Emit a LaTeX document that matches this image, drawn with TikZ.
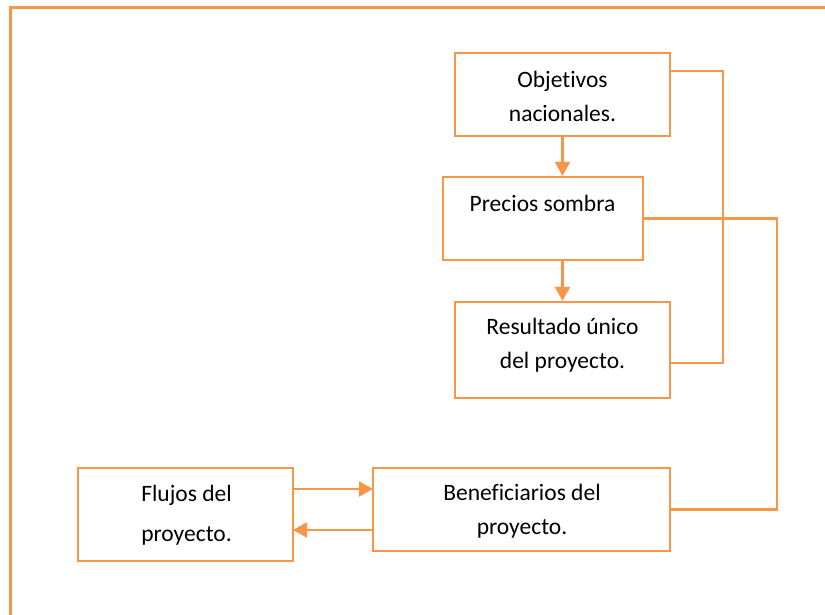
\documentclass[tikz,border=0pt]{standalone}
\usepackage{fontspec}
\setmainfont[Ligatures=NoCommon]{Carlito}
\usetikzlibrary{arrows.meta}
\definecolor{org}{RGB}{247,150,70}
\begin{document}
\begin{tikzpicture}[x=1pt,y=-1pt,
  box/.style={draw=org,line width=2.2pt,rectangle,inner sep=0pt},
  txt/.style={align=center,inner sep=0pt,font=\fontsize{23.5}{34}\selectfont},
  conn/.style={draw=org,line width=2.2pt},
  arr/.style={conn,-{Triangle[length=14pt,width=15pt]}}]
\useasboundingbox[fill=white] (0,0) rectangle (825,614);
% frame
\draw[org,line width=3pt] (10,620) -- (10,7) -- (830,7);
% boxes
\node[box,minimum width=215pt,minimum height=83pt] (obj) at (562.5,94.5) {};
\node[box,minimum width=200pt,minimum height=83pt] (prec) at (543,218.5) {};
\node[box,minimum width=215pt,minimum height=96pt] (res) at (562.5,350) {};
\node[box,minimum width=297pt,minimum height=83pt] (ben) at (521.5,509.5) {};
\node[box,minimum width=215pt,minimum height=93pt] (flu) at (185.5,514.5) {};
% texts
\node[txt] (tobj) at (562.5,96) {Objetivos\\nacionales.};
\node[txt] (tprec) at (542.5,203) {Precios sombra};
\node[txt] (tres) at (562.5,345) {Resultado único\\del proyecto.};
\node[txt] (tben) at (522,511.5) {Beneficiarios del\\proyecto.};
\node[txt,font=\fontsize{23.5}{40}\selectfont] (tflu) at (186.5,515) {Flujos del\\proyecto.};
% connectors
\coordinate (c1) at (562.5,0);
\draw[arr] (c1 |- obj.south) -- (c1 |- prec.north);
\draw[arr] (c1 |- prec.south) -- (c1 |- res.north);
\coordinate (o1) at (670,71);
\coordinate (r1) at (670,363);
\draw[conn] (o1) -- (723,71) -- (723,363) -- (r1);
\draw[conn] (prec.east) -- (777,218.5) -- (777,509.5) -- (ben.east);
\coordinate (fa) at (293,489);
\coordinate (ba) at (373,489);
\coordinate (fb) at (293,530);
\coordinate (bb) at (373,530);
\draw[arr] (fa) -- (ba);
\draw[arr] (bb) -- (fb);
\end{tikzpicture}
\end{document}
